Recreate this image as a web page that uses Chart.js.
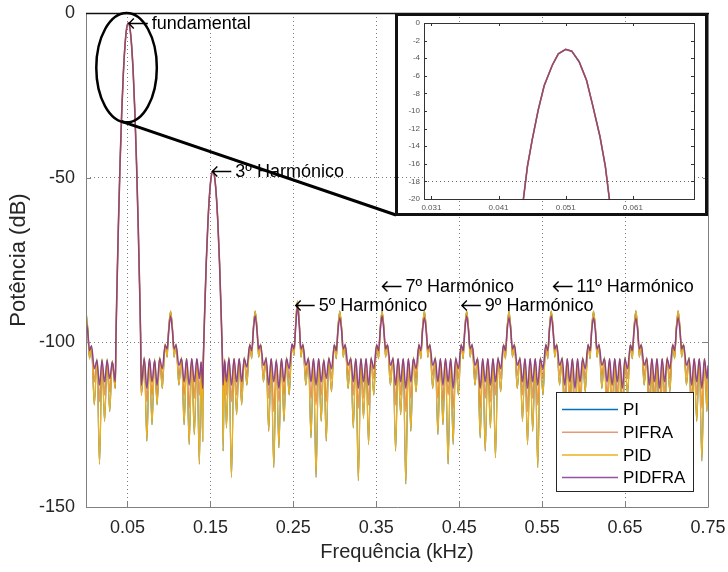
<!DOCTYPE html>
<html>
<head>
<meta charset="utf-8">
<script src="https://cdn.jsdelivr.net/npm/chart.js@4.4.1/dist/chart.umd.min.js"></script>
<style>
  body { margin: 0; background: #fff; }
  #wrap { position: relative; width: 728px; height: 572px; }
  #main { position: absolute; left: 0; top: 0; }
  #zoomBox { position: absolute; left: 395px; top: 13px; }
</style>
</head>
<body>
<div id="wrap">
  <canvas id="main" width="728" height="572"></canvas>
  <canvas id="zoomBox" width="313" height="203"></canvas>
</div>
<script>
// frequency points (kHz), shared by all curves
const freqKHz = [
  0, 0.0022, 0.0042, 0.0066, 0.0100, 0.0132, 0.0163, 0.0193, 0.0224, 0.0255, 0.0286, 0.0317,
  0.0353, 0.0362, 0.0375, 0.0390, 0.0410, 0.0430, 0.0450, 0.0470, 0.0490, 0.0510, 0.0530, 0.0550, 0.0570, 0.0590, 0.0610, 0.0630, 0.0645, 0.0658, 0.0667,
  0.0703, 0.0734, 0.0765, 0.0796, 0.0827, 0.0857, 0.0888, 0.0920, 0.0954, 0.0978, 0.0998,
  0.1020, 0.1042, 0.1062, 0.1086, 0.1120, 0.1152, 0.1183, 0.1213, 0.1244, 0.1275, 0.1306, 0.1337, 0.1367, 0.1388,
  0.1407, 0.1413, 0.1420, 0.1430, 0.1450, 0.1470, 0.1490, 0.1510, 0.1530, 0.1550, 0.1570, 0.1590, 0.1610, 0.1630, 0.1640, 0.1647, 0.1653,
  0.1672, 0.1693, 0.1723, 0.1754, 0.1785, 0.1816, 0.1847, 0.1877, 0.1908, 0.1940, 0.1974, 0.1998, 0.2018,
  0.2040, 0.2062, 0.2082, 0.2106, 0.2140, 0.2172, 0.2203, 0.2233, 0.2264, 0.2295, 0.2326, 0.2357, 0.2387, 0.2418, 0.2450, 0.2484, 0.2508, 0.2528,
  0.2550, 0.2572, 0.2592, 0.2616, 0.2650, 0.2682, 0.2713, 0.2743, 0.2774, 0.2805, 0.2836, 0.2867, 0.2897, 0.2928, 0.2960, 0.2994, 0.3018, 0.3038,
  0.3060, 0.3082, 0.3102, 0.3126, 0.3160, 0.3192, 0.3223, 0.3253, 0.3284, 0.3315, 0.3346, 0.3377, 0.3407, 0.3438, 0.3470, 0.3504, 0.3528, 0.3548,
  0.3570, 0.3592, 0.3612, 0.3636, 0.3670, 0.3702, 0.3733, 0.3763, 0.3794, 0.3825, 0.3856, 0.3887, 0.3917, 0.3948, 0.3980, 0.4014, 0.4038, 0.4058,
  0.4080, 0.4102, 0.4122, 0.4146, 0.4180, 0.4212, 0.4243, 0.4273, 0.4304, 0.4335, 0.4366, 0.4397, 0.4427, 0.4458, 0.4490, 0.4524, 0.4548, 0.4568,
  0.4590, 0.4612, 0.4632, 0.4656, 0.4690, 0.4722, 0.4753, 0.4783, 0.4814, 0.4845, 0.4876, 0.4907, 0.4937, 0.4968, 0.5000, 0.5034, 0.5058, 0.5078,
  0.5100, 0.5122, 0.5142, 0.5166, 0.5200, 0.5232, 0.5263, 0.5293, 0.5324, 0.5355, 0.5386, 0.5417, 0.5447, 0.5478, 0.5510, 0.5544, 0.5568, 0.5588,
  0.5610, 0.5632, 0.5652, 0.5676, 0.5710, 0.5742, 0.5773, 0.5803, 0.5834, 0.5865, 0.5896, 0.5927, 0.5957, 0.5988, 0.6020, 0.6054, 0.6078, 0.6098,
  0.6120, 0.6142, 0.6162, 0.6186, 0.6220, 0.6252, 0.6283, 0.6313, 0.6344, 0.6375, 0.6406, 0.6437, 0.6467, 0.6498, 0.6530, 0.6564, 0.6588, 0.6608,
  0.6630, 0.6652, 0.6672, 0.6696, 0.6730, 0.6762, 0.6793, 0.6823, 0.6854, 0.6885, 0.6916, 0.6947, 0.6977, 0.7008, 0.7040, 0.7074, 0.7098, 0.7118,
  0.7140, 0.7162, 0.7182, 0.7206, 0.7240, 0.7272, 0.7303, 0.7333, 0.7364, 0.7395, 0.7426, 0.7457, 0.7487, 0.7500
];

// PID (yellow) - PI lies exactly under it
const pidDb = [
  -90.5, -96, -105, -101, -119, -105, -137, -105, -124, -105, -121, -105.5,
  -114, -97.5, -81.6, -65.1, -46.2, -30.6, -18.5, -9.9, -4.7, -3, -4.7, -9.9, -18.5, -30.6, -46.2, -65.1, -81.6, -97.5, -116,
  -104.5, -130, -105, -125, -105, -119, -104.5, -114, -100.5, -104.5, -95.5,
  -90.5, -95.5, -104.5, -100.5, -113, -104.5, -125, -105, -131, -105, -128, -105, -137, -106,
  -130, -107.5, -100.6, -91.5, -75.8, -63.7, -55, -49.7, -48, -49.7, -55, -63.7, -75.8, -91.5, -100.6, -107.5, -133,
  -105, -126, -104.5, -141, -105, -122, -105, -119, -104.5, -113, -100.5, -105, -95.5,
  -90.5, -95.5, -104.5, -100.5, -112, -104.5, -127, -105, -138, -105, -132, -105, -124, -104.5, -116, -100.5, -104, -94.5,
  -87.5, -94, -104.5, -100.5, -113, -104.5, -129, -105, -141, -105, -124, -105, -130, -104.5, -115, -100.5, -105, -95.5,
  -90.5, -95.5, -104.5, -100.5, -114, -104.5, -126, -105, -142, -105, -123, -105, -131, -104.5, -116, -100.5, -105, -95.5,
  -90.5, -95.5, -104.5, -100.5, -113, -104.5, -133, -105, -122, -105, -143, -105, -127, -104.5, -115, -100.5, -105, -95.5,
  -90.5, -95.5, -104.5, -100.5, -114, -104.5, -128, -105, -125, -105, -137, -105, -131, -104.5, -116, -100.5, -105, -95.5,
  -90.5, -95.5, -104.5, -100.5, -113, -104.5, -129, -105, -133, -105, -126, -105, -135, -104.5, -115, -100.5, -105, -95.5,
  -90.5, -95.5, -104.5, -100.5, -114, -104.5, -124, -105, -131, -105, -127, -105, -138, -104.5, -116, -100.5, -105, -95.5,
  -90.5, -95.5, -104.5, -100.5, -113, -104.5, -130, -105, -122, -105, -136, -105, -128, -104.5, -115, -100.5, -105, -95.5,
  -90.5, -95.5, -104.5, -100.5, -114, -104.5, -127, -105, -134, -105, -125, -105, -132, -104.5, -116, -100.5, -105, -95.5,
  -90.4, -95.5, -104.5, -100.5, -113, -104.5, -129, -105, -126, -105, -133, -105, -124, -104.5, -115, -100.5, -105, -95.5,
  -90.4, -95.5, -104.5, -100.5, -113, -104.5, -127, -105, -124, -105, -136, -105, -121, -110
];
const piDb = pidDb;

// PIFRA (orange)
const pifraDb = [
  -92, -96.5, -104, -101.5, -112, -105.5, -118, -105.5, -116, -105.5, -115, -106,
  -114, -97.5, -81.6, -65.1, -46.2, -30.6, -18.5, -9.9, -4.7, -3, -4.7, -9.9, -18.5, -30.6, -46.2, -65.1, -81.6, -97.5, -116,
  -105, -118, -105, -116, -105.5, -117, -105, -111, -101, -103, -96,
  -91, -96, -103, -101, -110, -105, -116, -105, -120, -105, -117, -105, -116, -106,
  -118, -107.5, -100.6, -91.5, -75.8, -63.7, -55, -49.7, -48, -49.7, -55, -63.7, -75.8, -91.5, -100.6, -107.5, -120,
  -105.5, -116, -105, -118, -105, -116, -105, -115, -105, -110, -101, -103.5, -96,
  -91, -96, -103, -101, -110, -105, -117, -105, -121, -105.5, -118, -105, -116, -105, -111, -101, -103, -95,
  -88, -94.5, -103, -101, -110, -105, -117, -105, -119, -105, -116, -105.5, -118, -105, -111, -101, -103.5, -96,
  -91.5, -96, -103, -101, -110, -105, -116, -105, -120, -105, -117, -105, -119, -105, -111, -101, -103.5, -96,
  -91, -96, -103, -101, -110, -105, -119, -105, -116, -105, -121, -105, -117, -105, -111, -101, -103.5, -96,
  -91.5, -96, -103, -101, -110, -105, -117, -105, -118, -105, -116, -105, -120, -105, -111, -101, -103.5, -96,
  -91, -96, -103, -101, -110, -105, -120, -105, -117, -105, -118, -105, -116, -105, -111, -101, -103.5, -96,
  -91.5, -96, -103, -101, -110, -105, -116, -105, -121, -105, -117, -105, -119, -105, -111, -101, -103.5, -96,
  -91, -96, -103, -101, -110, -105, -118, -105, -116, -105, -120, -105, -117, -105, -111, -101, -103.5, -96,
  -91.5, -96, -103, -101, -110, -105, -117, -105, -119, -105, -116, -105, -120, -105, -111, -101, -103.5, -96,
  -91.5, -96, -103, -101, -110, -105, -118, -105, -117, -105, -121, -105, -116, -105, -111, -101, -103.5, -96,
  -91.5, -96, -103, -101, -110, -105, -118, -105, -116, -105, -120, -105, -115, -108
];

// PIDFRA (purple)
const pidfraDb = [
  -93, -97, -102.5, -101, -108, -105.5, -113, -105.5, -112, -105.5, -111, -106,
  -112, -97.5, -81.6, -65.1, -46.2, -30.6, -18.5, -9.9, -4.7, -3, -4.7, -9.9, -18.5, -30.6, -46.2, -65.1, -81.6, -97.5, -113,
  -105, -114, -105, -112, -105.5, -113, -105, -108, -100.8, -102, -96.5,
  -92, -96.5, -102, -100.8, -107, -105, -112, -105, -113, -105, -112, -105, -111, -106,
  -114, -107.5, -100.6, -91.5, -75.8, -63.7, -55, -49.7, -48, -49.7, -55, -63.7, -75.8, -91.5, -100.6, -107.5, -113,
  -105.5, -112, -105, -113, -105, -112, -105, -112, -105, -107.5, -100.8, -102.5, -96.5,
  -92, -96.5, -102, -100.8, -107, -105, -113, -105, -112, -105.5, -114, -105, -112, -105, -108, -100.5, -102, -95.5,
  -89, -95, -102, -100.8, -107, -105, -112, -105, -113, -105, -112, -105.5, -111, -105, -108, -100.8, -102.5, -96.5,
  -92.5, -96.5, -102, -100.8, -107, -105, -112, -105, -114, -105, -112, -105, -113, -105, -108, -100.8, -102.5, -96.5,
  -92, -96.5, -102, -100.8, -107, -105, -113, -105, -112, -105, -114, -105, -112, -105, -108, -100.8, -102.5, -96.5,
  -92.5, -96.5, -102, -100.8, -107, -105, -112, -105, -113, -105, -112, -105, -114, -105, -108, -100.8, -102.5, -96.5,
  -92, -96.5, -102, -100.8, -107, -105, -114, -105, -112, -105, -113, -105, -112, -105, -108, -100.8, -102.5, -96.5,
  -92.5, -96.5, -102, -100.8, -107, -105, -112, -105, -114, -105, -112, -105, -113, -105, -108, -100.8, -102.5, -96.5,
  -92, -96.5, -102, -100.8, -107, -105, -113, -105, -112, -105, -114, -105, -112, -105, -108, -100.8, -102.5, -96.5,
  -92.5, -96.5, -102, -100.8, -107, -105, -112, -105, -113, -105, -112, -105, -114, -105, -108, -100.8, -102.5, -96.5,
  -92.8, -96.5, -102, -100.8, -107, -105, -113, -105, -112, -105, -114, -105, -112, -105, -108, -100.8, -102.5, -96.5,
  -92.5, -96.5, -102, -100.8, -107, -105, -113, -105, -112, -105, -114, -105, -111, -107
];

const xTickVals = [0.05, 0.15, 0.25, 0.35, 0.45, 0.55, 0.65, 0.75];
const yTickVals = [0, -50, -100, -150];

// zoom on the fundamental (all four curves coincide here)
const zoomFreq = [0.0441, 0.0447, 0.0453, 0.0460, 0.0469, 0.0478, 0.0490, 0.0499, 0.0510, 0.0519, 0.0530, 0.0541, 0.0550, 0.0561, 0.0569, 0.0575, 0.0581];
const zoomDb = [-24, -20, -16.3, -13.3, -9.9, -7.1, -4.8, -3.5, -3.0, -3.2, -4.4, -6.5, -9.3, -12.9, -16.3, -20, -24];
const zoomXTicks = [0.031, 0.041, 0.051, 0.061];

// arrow labels (arrow tip position)
const noteText = ['fundamental', '3º Harmónico', '5º Harmónico', '7º Harmónico', '9º Harmónico', '11º Harmónico'];
const noteFreq = [0.0504, 0.1511, 0.2516, 0.3563, 0.4520, 0.5626];
const noteDb = [-3.0, -48.1, -88.6, -83.0, -88.6, -83.0];

const seriesNames = ['PI', 'PIFRA', 'PID', 'PIDFRA'];
const seriesColors = ['#0072bd', 'rgba(217,83,25,0.6)', '#edb120', 'rgba(126,47,142,0.82)'];
const seriesWidth = [1.1, 1.6, 1.3, 1.5];
const mainSeries = [piDb, pifraDb, pidDb, pidfraDb];

const fontFam = "'Liberation Sans', Arial, Helvetica, sans-serif";
const txtColor = '#262626';

function toPoints(xs, ys) {
  return xs.map((x, i) => ({x: x, y: ys[i]}));
}

// keep tick labels from pushing the plot area around
function noLabelPadding(s) {
  s.paddingTop = 0; s.paddingBottom = 0; s.paddingLeft = 0; s.paddingRight = 0;
}

const mainOverlay = {
  id: 'mainOverlay',
  afterDatasetsDraw(chart) {
    const {ctx, chartArea: a, scales: {x, y}} = chart;
    ctx.save();

    // small inward ticks
    ctx.strokeStyle = '#808080';
    ctx.lineWidth = 1;
    ctx.beginPath();
    xTickVals.forEach(v => {
      const px = Math.round(x.getPixelForValue(v)) + 0.5;
      ctx.moveTo(px, a.bottom); ctx.lineTo(px, a.bottom - 5);
    });
    yTickVals.forEach(v => {
      const py = Math.round(y.getPixelForValue(v)) + 0.5;
      ctx.moveTo(a.left, py); ctx.lineTo(a.left + 5, py);
      ctx.moveTo(a.right, py); ctx.lineTo(a.right - 5, py);
    });
    ctx.stroke();

    // box
    ctx.beginPath();
    ctx.moveTo(a.left + 0.5, a.top);
    ctx.lineTo(a.left + 0.5, a.bottom + 0.5);
    ctx.lineTo(a.right + 0.5, a.bottom + 0.5);
    ctx.lineTo(a.right + 0.5, a.top);
    ctx.stroke();
    ctx.strokeStyle = '#111';
    ctx.lineWidth = 1.5;
    ctx.beginPath();
    ctx.moveTo(a.left, a.top + 0.5);
    ctx.lineTo(a.right + 1, a.top + 0.5);
    ctx.stroke();

    // ellipse round the fundamental and line to the zoom box
    const cx = x.getPixelForValue(0.0489), cy = y.getPixelForValue(-16.6);
    const rx = x.getPixelForValue(0.0489 + 0.0365) - cx;
    const ry = y.getPixelForValue(-16.6 - 16.6) - cy;
    ctx.strokeStyle = '#000';
    ctx.lineWidth = 2.5;
    ctx.beginPath();
    ctx.ellipse(cx, cy, rx, ry, 0, 0, Math.PI * 2);
    ctx.stroke();
    const box = document.getElementById('zoomBox');
    ctx.lineWidth = 3;
    ctx.beginPath();
    ctx.moveTo(cx - 5, cy + ry - 1);
    ctx.lineTo(box.offsetLeft + 1, box.offsetTop + box.height - 1);
    ctx.stroke();

    // arrow notes
    ctx.fillStyle = '#000';
    ctx.strokeStyle = '#000';
    ctx.lineWidth = 1.4;
    ctx.font = '18px ' + fontFam;
    ctx.textAlign = 'left';
    ctx.textBaseline = 'middle';
    noteText.forEach((t, i) => {
      const px = x.getPixelForValue(noteFreq[i]);
      const py = Math.round(y.getPixelForValue(noteDb[i])) + 0.5;
      ctx.beginPath();
      ctx.moveTo(px + 20, py);
      ctx.lineTo(px + 1, py);
      ctx.moveTo(px + 6, py - 5);
      ctx.lineTo(px + 1, py);
      ctx.lineTo(px + 6, py + 5);
      ctx.stroke();
      ctx.fillText(t, px + 24, py + 1);
    });

    // legend
    const w = 137, h = 99;
    const lx = a.right - 15 - w, ly = a.bottom - 16 - h;
    ctx.fillStyle = '#fff';
    ctx.fillRect(lx, ly, w, h);
    ctx.strokeStyle = txtColor;
    ctx.lineWidth = 1;
    ctx.strokeRect(lx + 0.5, ly + 0.5, w, h);
    ctx.font = '17px ' + fontFam;
    seriesNames.forEach((n, i) => {
      const ry2 = ly + 17.5 + i * 22.7;
      ctx.strokeStyle = seriesColors[i];
      ctx.lineWidth = Math.max(seriesWidth[i], 1.5);
      ctx.beginPath();
      ctx.moveTo(lx + 6, ry2);
      ctx.lineTo(lx + 62, ry2);
      ctx.stroke();
      ctx.fillStyle = '#000';
      ctx.fillText(n, lx + 67, ry2 + 1);
    });
    ctx.restore();
  }
};

new Chart(document.getElementById('main'), {
  type: 'line',
  data: {
    datasets: seriesNames.map((n, i) => ({
      label: n,
      data: toPoints(freqKHz, mainSeries[i]),
      borderColor: seriesColors[i],
      borderWidth: seriesWidth[i],
      order: 4 - i,
      pointRadius: 0,
      cubicInterpolationMode: 'monotone'
    }))
  },
  options: {
    responsive: false,
    animation: false,
    devicePixelRatio: 1,
    layout: {padding: {top: 13, right: 20, left: 0, bottom: 0}},
    plugins: {legend: {display: false}, tooltip: {enabled: false}},
    scales: {
      x: {
        type: 'linear', min: 0, max: 0.75,
        afterBuildTicks: s => { s.ticks = xTickVals.map(v => ({value: v})); },
        afterFit: s => { s.height = 65; noLabelPadding(s); },
        ticks: {callback: v => v.toFixed(2), font: {family: fontFam, size: 18}, color: txtColor, padding: 10, maxRotation: 0, autoSkip: false},
        grid: {color: 'rgba(38,38,38,0.6)', drawTicks: false, lineWidth: 1},
        border: {display: false, dash: [1, 3]},
        title: {display: true, text: 'Frequência (kHz)', font: {family: fontFam, size: 20}, color: txtColor, padding: {top: 0, bottom: 8}}
      },
      y: {
        min: -150, max: 0,
        afterBuildTicks: s => { s.ticks = yTickVals.map(v => ({value: v})); },
        afterFit: s => { s.width = 86; noLabelPadding(s); },
        ticks: {font: {family: fontFam, size: 18}, color: txtColor, padding: 11},
        grid: {color: 'rgba(38,38,38,0.6)', drawTicks: false, lineWidth: 1},
        border: {display: false, dash: [1, 3]},
        title: {display: true, text: 'Potência (dB)', font: {family: fontFam, size: 22}, color: txtColor, padding: {top: 6, bottom: 0}}
      }
    }
  },
  plugins: [mainOverlay]
});

const zoomFrame = {
  id: 'zoomFrame',
  beforeDraw(chart) {
    const {ctx, chartArea: a} = chart;
    ctx.save();
    ctx.fillStyle = '#fff';
    ctx.fillRect(a.left, a.top, a.right - a.left, a.bottom - a.top);
    ctx.restore();
  },
  beforeDatasetsDraw(chart) {
    const {ctx, chartArea: a, scales: {y}} = chart;
    ctx.save();
    ctx.strokeStyle = 'rgba(38,38,38,0.7)';
    ctx.setLineDash([1, 3]);
    const py = Math.round(y.getPixelForValue(-18)) + 0.5;
    ctx.beginPath();
    ctx.moveTo(a.left, py); ctx.lineTo(a.right, py);
    ctx.stroke();
    ctx.restore();
  },
  afterDraw(chart) {
    const {ctx, chartArea: a, scales: {x, y}, width, height} = chart;
    ctx.save();
    ctx.strokeStyle = '#333';
    ctx.lineWidth = 1;
    ctx.strokeRect(a.left + 0.5, a.top + 0.5, a.right - a.left, a.bottom - a.top);
    ctx.beginPath();
    zoomXTicks.forEach(v => {
      const px = Math.round(x.getPixelForValue(v)) + 0.5;
      ctx.moveTo(px, a.bottom); ctx.lineTo(px, a.bottom - 3);
      ctx.moveTo(px, a.top); ctx.lineTo(px, a.top + 3);
    });
    y.ticks.forEach(t => {
      const py = Math.round(y.getPixelForValue(t.value)) + 0.5;
      ctx.moveTo(a.left, py); ctx.lineTo(a.left + 3, py);
      ctx.moveTo(a.right, py); ctx.lineTo(a.right - 3, py);
    });
    ctx.stroke();
    ctx.strokeStyle = '#111';
    ctx.lineWidth = 3;
    ctx.strokeRect(1.5, 1.5, width - 3, height - 3);
    ctx.restore();
  }
};

new Chart(document.getElementById('zoomBox'), {
  type: 'line',
  data: {
    datasets: seriesNames.map((n, i) => ({
      label: n,
      data: toPoints(zoomFreq, zoomDb),
      borderColor: seriesColors[i],
      borderWidth: seriesWidth[i],
      order: 4 - i,
      pointRadius: 0,
      tension: 0
    }))
  },
  options: {
    responsive: false,
    animation: false,
    devicePixelRatio: 1,
    layout: {padding: {top: 10, right: 14, left: 0, bottom: 0}},
    plugins: {legend: {display: false}, tooltip: {enabled: false}},
    scales: {
      x: {
        type: 'linear', min: 0.0299, max: 0.0701,
        afterBuildTicks: s => { s.ticks = zoomXTicks.map(v => ({value: v})); },
        afterFit: s => { s.height = 17; noLabelPadding(s); },
        ticks: {callback: v => v.toFixed(3), font: {family: fontFam, size: 8}, color: '#555', padding: 4, maxRotation: 0, autoSkip: false},
        grid: {display: false, drawTicks: false},
        border: {display: false}
      },
      y: {
        min: -20, max: 0,
        afterFit: s => { s.width = 29; noLabelPadding(s); },
        ticks: {stepSize: 2, font: {family: fontFam, size: 8}, color: '#555', padding: 4},
        grid: {display: false, drawTicks: false},
        border: {display: false}
      }
    }
  },
  plugins: [zoomFrame]
});
</script>
</body>
</html>
